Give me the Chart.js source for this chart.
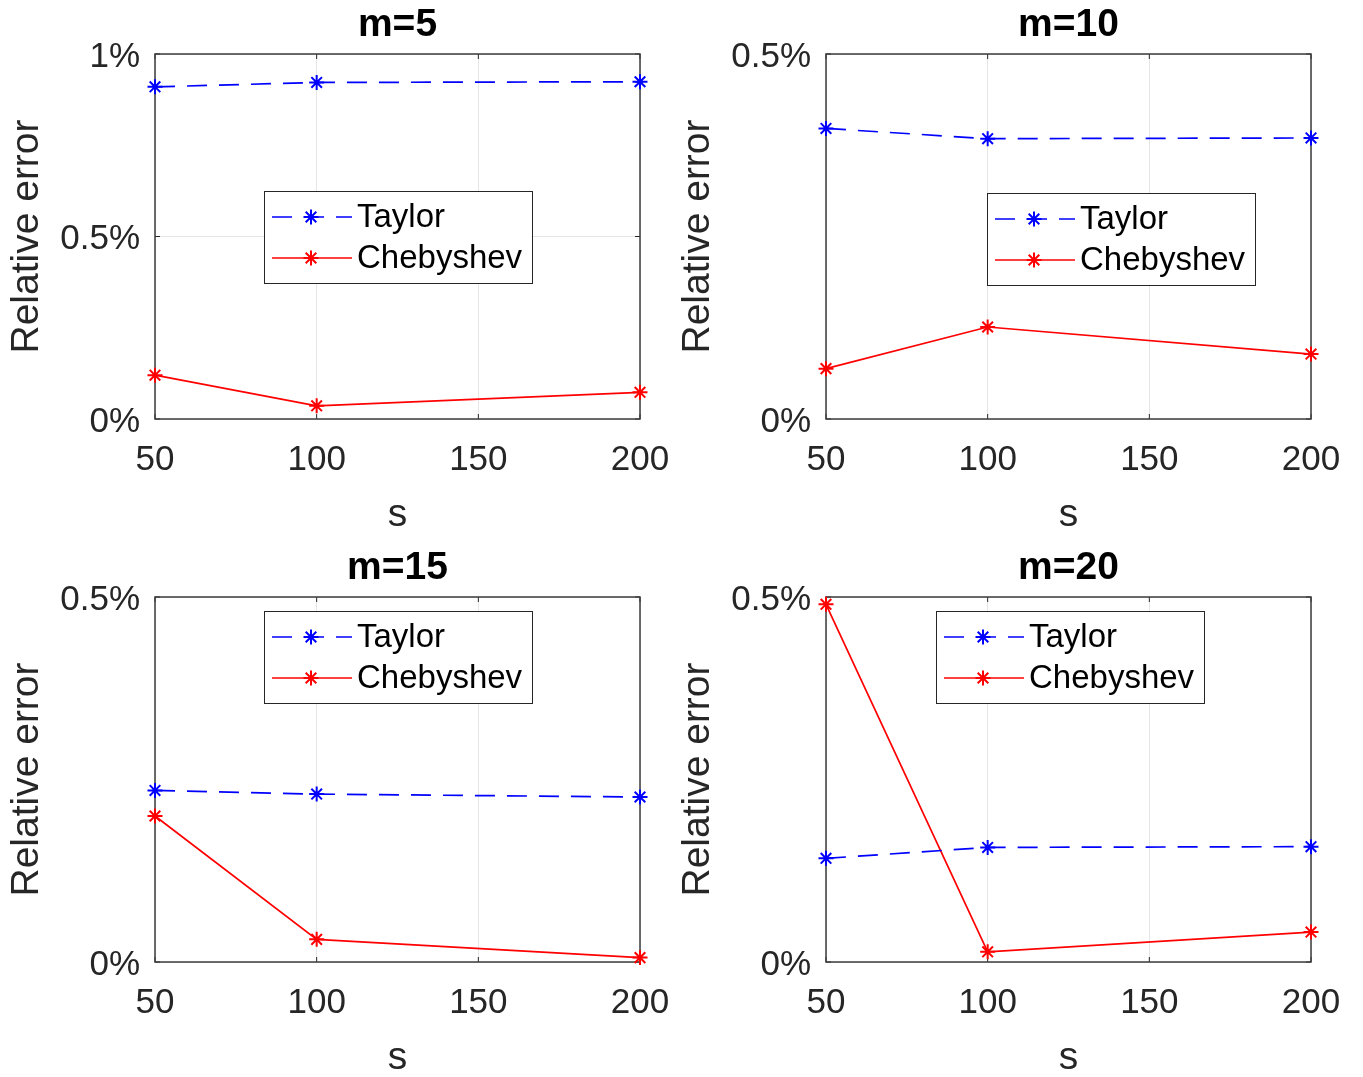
<!DOCTYPE html>
<html>
<head>
<meta charset="utf-8">
<title>Relative error vs s</title>
<script src="https://cdn.jsdelivr.net/npm/chart.js@4.4.1/dist/chart.umd.min.js"></script>
<style>
    html, body { margin: 0; padding: 0; background: #fff; overflow: hidden; }
    body { width: 1363px; height: 1077px; position: relative; }
    .panel { position: absolute; width: 692px; height: 540px; }
    .panel canvas { display: block; }
</style>
</head>
<body>
<div class="panel" style="left:0;top:0"><canvas id="c0" width="692" height="540"></canvas></div>
<div class="panel" style="left:671px;top:0"><canvas id="c1" width="692" height="540"></canvas></div>
<div class="panel" style="left:0;top:543px"><canvas id="c2" width="692" height="540"></canvas></div>
<div class="panel" style="left:671px;top:543px"><canvas id="c3" width="692" height="540"></canvas></div>
<script>
// data (relative error in %)
const sValues = [50, 100, 200];
const panelTitles = ['m=5', 'm=10', 'm=15', 'm=20'];
const taylorM5 = [0.910, 0.922, 0.924];
const chebyshevM5 = [0.120, 0.036, 0.073];
const taylorM10 = [0.398, 0.384, 0.385];
const chebyshevM10 = [0.069, 0.126, 0.089];
const taylorM15 = [0.235, 0.230, 0.226];
const chebyshevM15 = [0.200, 0.031, 0.006];
const taylorM20 = [0.142, 0.157, 0.158];
const chebyshevM20 = [0.490, 0.014, 0.041];
const xTickValues = [50, 100, 150, 200];
const yTickValuesM5 = [0, 0.5, 1];
const yTickValuesOther = [0, 0.5];
const seriesNames = ['Taylor', 'Chebyshev'];

const panels = [
    { taylor: taylorM5, cheb: chebyshevM5, yTicks: yTickValuesM5, legend: { x: 264, y: 191 } },
    { taylor: taylorM10, cheb: chebyshevM10, yTicks: yTickValuesOther, legend: { x: 316, y: 193 } },
    { taylor: taylorM15, cheb: chebyshevM15, yTicks: yTickValuesOther, legend: { x: 264, y: 68 } },
    { taylor: taylorM20, cheb: chebyshevM20, yTicks: yTickValuesOther, legend: { x: 265, y: 68 } },
];

const FONT = '"Liberation Sans", Helvetica, Arial, sans-serif';
const axisColor = '#262626';
const blue = '#0000ff';
const red = '#ff0000';
const taylorDash = [20, 12];

function drawStar(ctx, cx, cy, r) {
    ctx.beginPath();
    for (let k = 0; k < 4; k++) {
        const a = k * Math.PI / 4;
        ctx.moveTo(cx - r * Math.cos(a), cy - r * Math.sin(a));
        ctx.lineTo(cx + r * Math.cos(a), cy + r * Math.sin(a));
    }
    ctx.stroke();
}

// MATLAB-like box with inward ticks, plus a legend box inside the axes
const matlabFrame = {
    id: 'matlabFrame',
    beforeDatasetsDraw(chart) {
        const { ctx, chartArea: a, scales: { x, y } } = chart;
        ctx.save();
        ctx.strokeStyle = axisColor;
        ctx.lineWidth = 1;
        ctx.beginPath();
        x.ticks.forEach(t => {
            const px = x.getPixelForValue(t.value);
            ctx.moveTo(px, a.bottom); ctx.lineTo(px, a.bottom - 5);
            ctx.moveTo(px, a.top); ctx.lineTo(px, a.top + 5);
        });
        y.ticks.forEach(t => {
            const py = y.getPixelForValue(t.value);
            ctx.moveTo(a.left, py); ctx.lineTo(a.left + 5, py);
            ctx.moveTo(a.right, py); ctx.lineTo(a.right - 5, py);
        });
        ctx.stroke();
        ctx.lineWidth = 1.5;
        ctx.strokeStyle = '#3c3c3c';
        ctx.strokeRect(a.left, a.top, a.width, a.height);
        ctx.restore();
    },
    afterDatasetsDraw(chart, args, opts) {
        if (!opts || opts.x === undefined) return;
        const { ctx } = chart;
        const bx = opts.x, by = opts.y, bw = 268, bh = 92;
        ctx.save();
        ctx.fillStyle = '#fff';
        ctx.fillRect(bx, by, bw, bh);
        ctx.strokeStyle = axisColor;
        ctx.lineWidth = 1;
        ctx.strokeRect(bx + 0.5, by + 0.5, bw, bh);
        const rows = [by + 26, by + 67];
        chart.data.datasets.forEach((ds, i) => {
            const ry = rows[i];
            ctx.strokeStyle = ds.borderColor;
            ctx.lineWidth = 1.5;
            ctx.setLineDash(ds.borderDash || []);
            ctx.beginPath();
            ctx.moveTo(bx + 8, ry);
            ctx.lineTo(bx + 88, ry);
            ctx.stroke();
            ctx.setLineDash([]);
            ctx.lineWidth = 2;
            drawStar(ctx, bx + 47, ry, 7.5);
            ctx.fillStyle = '#000';
            ctx.font = '33px ' + FONT;
            ctx.textBaseline = 'middle';
            ctx.textAlign = 'left';
            ctx.fillText(ds.label, bx + 93, ry + 1);
        });
        ctx.restore();
    }
};

function makeChart(canvasId, idx) {
    const p = panels[idx];
    return new Chart(document.getElementById(canvasId), {
        type: 'line',
        data: {
            datasets: [
                {
                    label: seriesNames[0],
                    data: sValues.map((s, i) => ({ x: s, y: p.taylor[i] })),
                    borderColor: blue,
                    borderDash: taylorDash,
                    borderWidth: 1.7,
                    pointStyle: 'star',
                    pointRadius: 7.5,
                    pointBorderColor: blue,
                    pointBorderWidth: 2,
                    fill: false,
                    tension: 0,
                    clip: false,
                },
                {
                    label: seriesNames[1],
                    data: sValues.map((s, i) => ({ x: s, y: p.cheb[i] })),
                    borderColor: red,
                    borderWidth: 1.7,
                    pointStyle: 'star',
                    pointRadius: 7.5,
                    pointBorderColor: red,
                    pointBorderWidth: 2,
                    fill: false,
                    tension: 0,
                    clip: false,
                },
            ],
        },
        options: {
            responsive: false,
            animation: false,
            events: [],
            layout: { padding: { top: 0, left: 0, right: 52, bottom: 0 } },
            plugins: {
                legend: { display: false },
                tooltip: { enabled: false },
                title: {
                    display: true,
                    fullSize: false,
                    text: panelTitles[idx],
                    color: '#000',
                    font: { family: FONT, size: 39, weight: 'bold' },
                    padding: { top: 2, bottom: 5.2 },
                },
                matlabFrame: p.legend,
            },
            scales: {
                x: {
                    type: 'linear',
                    min: 50,
                    max: 200,
                    afterBuildTicks: scale => { scale.ticks = xTickValues.map(v => ({ value: v })); },
                    afterFit: scale => { scale.height = 121; },
                    grid: { color: '#e6e6e6', drawTicks: false },
                    border: { display: false },
                    ticks: {
                        color: axisColor,
                        font: { family: FONT, size: 35 },
                        padding: 20,
                        maxRotation: 0,
                        autoSkip: false,
                        callback: v => v,
                    },
                    title: {
                        display: true,
                        text: 's',
                        color: axisColor,
                        font: { family: FONT, size: 39 },
                        padding: { top: 0, bottom: 1.5 },
                    },
                },
                y: {
                    min: 0,
                    max: p.yTicks[p.yTicks.length - 1],
                    afterBuildTicks: scale => { scale.ticks = p.yTicks.map(v => ({ value: v })); },
                    afterFit: scale => { scale.width = 155; },
                    grid: { color: '#e6e6e6', drawTicks: false },
                    border: { display: false },
                    ticks: {
                        color: axisColor,
                        font: { family: FONT, size: 35 },
                        padding: 15,
                        labelOffset: 3,
                        callback: v => v + '%',
                    },
                    title: {
                        display: true,
                        text: 'Relative error',
                        color: axisColor,
                        font: { family: FONT, size: 39 },
                        padding: { top: 3.5, bottom: 0 },
                    },
                },
            },
        },
        plugins: [matlabFrame],
    });
}

['c0', 'c1', 'c2', 'c3'].forEach((id, i) => makeChart(id, i));
</script>
</body>
</html>
